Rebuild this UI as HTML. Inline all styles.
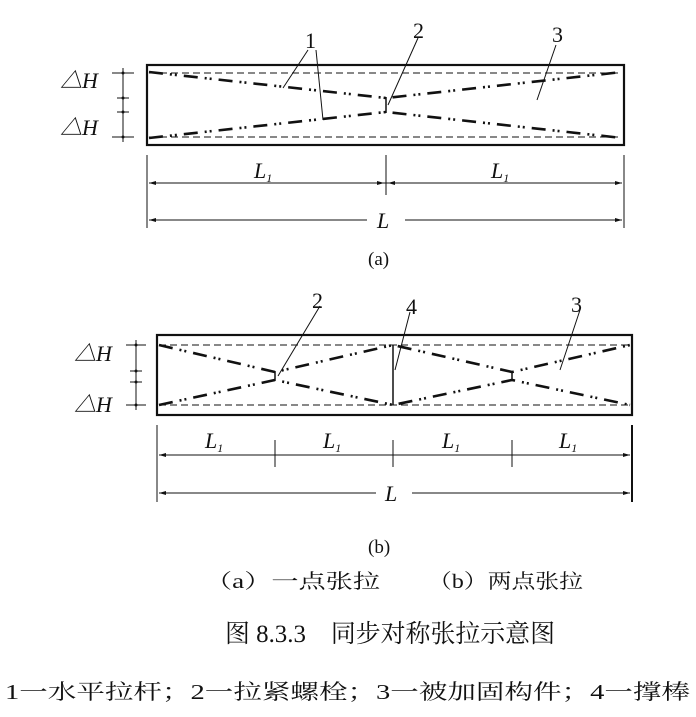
<!DOCTYPE html>
<html><head><meta charset="utf-8"><style>
body{margin:0;background:#fff;width:696px;height:717px;overflow:hidden}
svg{position:absolute;left:0;top:0}
text{font-family:"Liberation Serif","Noto Serif CJK SC",serif;fill:#111}
</style></head><body>
<svg width="696" height="717" viewBox="0 0 696 717">
<g stroke="#111" fill="none">
<rect x="147" y="65" width="477" height="80" stroke-width="2.2"/>
<line x1="149" y1="73" x2="622" y2="73" stroke-width="1" stroke-dasharray="7 4"/>
<line x1="149" y1="137" x2="622" y2="137" stroke-width="1" stroke-dasharray="7 4"/>
<g stroke-width="2.6" stroke-dasharray="14 7 2 3 2 7">
<polyline points="149,72 386,98 622,72"/>
<polyline points="149,138 386,112 622,138"/>
</g>
<line x1="386" y1="97" x2="386" y2="113" stroke-width="1.5"/>
<g stroke-width="1">
<line x1="123" y1="68" x2="123" y2="142"/>
<line x1="112" y1="73" x2="134" y2="73"/><line x1="117" y1="98" x2="129" y2="98"/>
<line x1="117" y1="112" x2="129" y2="112"/><line x1="112" y1="137" x2="134" y2="137"/>
<line x1="147" y1="155" x2="147" y2="228"/><line x1="386" y1="155" x2="386" y2="195"/><line x1="624" y1="155" x2="624" y2="228"/>
<line x1="149" y1="183" x2="622" y2="183"/>
<line x1="149" y1="220" x2="367" y2="220"/><line x1="405" y1="220" x2="622" y2="220"/>
<line x1="308" y1="50" x2="283" y2="88"/><line x1="316" y1="50" x2="323" y2="120"/>
<line x1="418" y1="38" x2="388" y2="105"/><line x1="556" y1="45" x2="537" y2="100"/>
</g>
<rect x="157" y="335" width="475" height="80" stroke-width="2.2"/>
<line x1="159" y1="345" x2="630" y2="345" stroke-width="1" stroke-dasharray="7 4"/>
<line x1="159" y1="405" x2="630" y2="405" stroke-width="1" stroke-dasharray="7 4"/>
<g stroke-width="2.6" stroke-dasharray="14 7 2 3 2 7">
<polyline points="159,345 275,372 393,345 512,372 630,345"/>
<polyline points="159,405 275,380 393,405 512,380 630,405"/>
</g>
<line x1="275" y1="371" x2="275" y2="381" stroke-width="1.5"/>
<line x1="512" y1="371" x2="512" y2="381" stroke-width="1.5"/>
<line x1="393" y1="345" x2="393" y2="405" stroke-width="1.5"/>
<g stroke-width="1">
<line x1="136" y1="340" x2="136" y2="410"/>
<line x1="126" y1="345" x2="146" y2="345"/><line x1="130" y1="371" x2="142" y2="371"/>
<line x1="130" y1="382" x2="142" y2="382"/><line x1="126" y1="405" x2="146" y2="405"/>
<line x1="157" y1="425" x2="157" y2="502"/><line x1="275" y1="440" x2="275" y2="467"/>
<line x1="393" y1="440" x2="393" y2="467"/><line x1="512" y1="440" x2="512" y2="467"/>
<line x1="632" y1="425" x2="632" y2="502" stroke-width="2"/>
<line x1="159" y1="455" x2="630" y2="455"/>
<line x1="159" y1="493" x2="376" y2="493"/><line x1="412" y1="493" x2="630" y2="493"/>
<line x1="320" y1="306" x2="278" y2="376"/><line x1="410" y1="312" x2="395" y2="370"/>
<line x1="580" y1="310" x2="560" y2="370"/>
</g>
</g>
<g fill="#111">
<polygon points="149,183 156,181 156,185"/><polygon points="384,183 377,181 377,185"/>
<polygon points="388,183 395,181 395,185"/><polygon points="622,183 615,181 615,185"/>
<polygon points="149,220 156,218 156,222"/><polygon points="622,220 615,218 615,222"/>
<polygon points="159,455 166,453 166,457"/><polygon points="630,455 623,453 623,457"/>
<polygon points="159,493 166,491 166,495"/><polygon points="630,493 623,491 623,495"/>
<circle cx="123" cy="73" r="1.5"/><circle cx="123" cy="98" r="1.5"/><circle cx="123" cy="112" r="1.5"/><circle cx="123" cy="137" r="1.5"/>
<circle cx="136" cy="345" r="1.5"/><circle cx="136" cy="371" r="1.5"/><circle cx="136" cy="382" r="1.5"/><circle cx="136" cy="405" r="1.5"/>
</g>
<g font-size="22" font-style="italic">
<text x="60" y="88">△H</text>
<text x="60" y="135">△H</text>
<text x="74" y="361">△H</text>
<text x="74" y="412">△H</text>
<text x="254" y="178">L<tspan font-size="12" dy="4">1</tspan></text>
<text x="491" y="178">L<tspan font-size="12" dy="4">1</tspan></text>
<text x="377" y="228">L</text>
<text x="205" y="448">L<tspan font-size="12" dy="4">1</tspan></text>
<text x="323" y="448">L<tspan font-size="12" dy="4">1</tspan></text>
<text x="442" y="448">L<tspan font-size="12" dy="4">1</tspan></text>
<text x="559" y="448">L<tspan font-size="12" dy="4">1</tspan></text>
<text x="385" y="501">L</text>
</g>
<g font-size="22">
<text x="305" y="48">1</text><text x="413" y="38">2</text><text x="552" y="42">3</text>
<text x="312" y="308">2</text><text x="406" y="314">4</text><text x="571" y="312">3</text>
<text x="368" y="265" font-size="19">(a)</text>
<text x="368" y="553" font-size="19">(b)</text>
</g>
<text x="205" y="588" font-size="20" textLength="175" lengthAdjust="spacingAndGlyphs">（a）一点张拉</text>
<text x="428" y="588" font-size="20" textLength="155" lengthAdjust="spacingAndGlyphs">（b）两点张拉</text>
<text x="225" y="642" font-size="25" fill="#333" textLength="330" lengthAdjust="spacingAndGlyphs">图 8.3.3　同步对称张拉示意图</text>
<text x="5" y="699" font-size="21" textLength="685" lengthAdjust="spacingAndGlyphs"><tspan font-family="Liberation Serif">1</tspan>一水平拉杆；<tspan font-family="Liberation Serif">2</tspan>一拉紧螺栓；<tspan font-family="Liberation Serif">3</tspan>一被加固构件；<tspan font-family="Liberation Serif">4</tspan>一撑棒</text>
</svg>
</body></html>
